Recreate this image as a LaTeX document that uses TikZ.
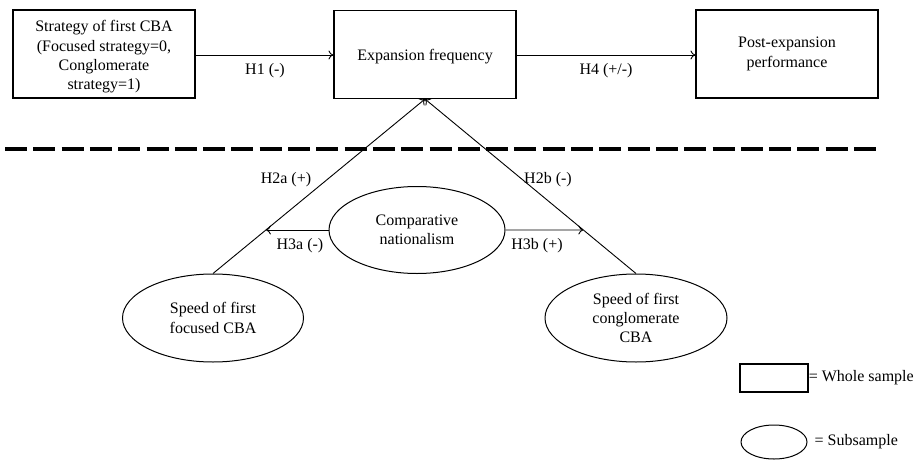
\documentclass[tikz,border=0pt]{standalone}
\usepackage{fontspec}
\setmainfont{Liberation Serif}
\usetikzlibrary{shapes.geometric,arrows.meta}
\begin{document}
\begin{tikzpicture}[x=1pt,y=-1pt,
  font=\fontsize{16}{19.3}\selectfont,
  boxnode/.style={draw,line width=1.1pt,minimum width=182pt,minimum height=88pt,align=center,inner sep=2pt},
  ellnode/.style={draw,ellipse,line width=1pt,minimum width=180pt,minimum height=88pt,align=center,inner sep=0pt},
  conn/.style={line width=0.9pt,-{To[length=5pt,width=9pt]}},
  lbl/.style={inner sep=1pt}]
\useasboundingbox (0,0) rectangle (917,460);
\node[boxnode] (strat) at (104,54) {};
\node[align=center,inner sep=0pt] (strattxt) at (104,57) {Strategy of first CBA\\(Focused strategy=0,\\Conglomerate\\strategy=1)};
\node[boxnode] (exp) at (425,54.5) {};
\node[inner sep=0pt] (exptxt) at (425,56.5) {Expansion frequency};
\node[boxnode] (post) at (787,54) {Post-expansion\\performance};
\draw[conn] (strat.east |- 0,55) -- (exp.west |- 0,55);
\draw[conn] (exp.east |- 0,55) -- (post.west |- 0,55);
\node[lbl] at (265,71) {H1 (-)};
\node[lbl] at (606,71) {H4 (+/-)};
\coordinate (dl) at (5,149);
\coordinate (dr) at (878,149);
\draw[line width=3.5pt,dash pattern=on 22pt off 6.3pt] (dl) -- (dr);
\node[ellnode,minimum width=176pt,minimum height=87pt] (cn) at (417,230) {Comparative\\nationalism};
\node[ellnode,minimum width=181pt] (sf) at (213,318) {Speed of first\\focused CBA};
\node[ellnode,minimum width=182pt] (sc) at (636,318) {Speed of first\\conglomerate\\CBA};
\draw[conn] (sf.north) -- (exp.south);
\draw[conn] (sc.north) -- (exp.south);
\draw[conn] (cn.west) -- (intersection of sf.north--exp.south and cn.west--cn.east);
\draw[conn] (cn.east) -- (intersection of sc.north--exp.south and cn.west--cn.east);
\node[lbl] at (286,180) {H2a (+)};
\node[lbl] at (548,180) {H2b (-)};
\node[lbl] at (300,246) {H3a (-)};
\node[lbl] at (537,246) {H3b (+)};
\node[draw,line width=1.1pt,minimum width=68pt,minimum height=28pt,inner sep=0pt] (lbox) at (774,378) {};
\node[anchor=west,inner sep=0pt] (ltxt1) at (lbox.east) {= Whole sample};
\node[draw,ellipse,line width=1pt,minimum width=66pt,minimum height=34pt,inner sep=0pt] (lell) at (774,442) {};
\node[anchor=west,inner sep=0pt] (ltxt2) at ([xshift=7pt]lell.east) {= Subsample};
\end{tikzpicture}
\end{document}
